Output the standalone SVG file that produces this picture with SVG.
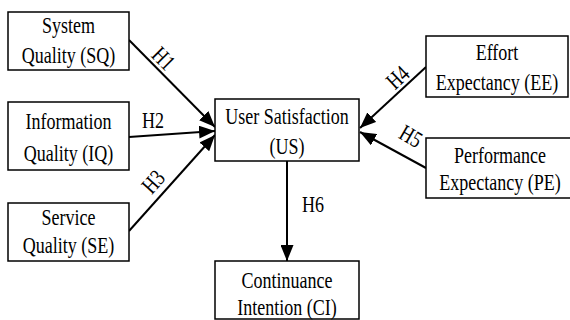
<svg xmlns="http://www.w3.org/2000/svg" width="570" height="320" viewBox="0 0 570 320">
<style>
rect.box{fill:#fff;stroke:#000;stroke-width:1.5}
text{font-family:'Liberation Serif','Times New Roman',Times,serif;font-size:23.4px;fill:#000;text-anchor:middle}
.conn line{stroke:#000;stroke-width:2}
</style>
<defs>
<marker id="arr" markerUnits="userSpaceOnUse" markerWidth="16" markerHeight="13" refX="16" refY="6.5" orient="auto">
<path d="M0,0 L16,6.5 L0,13 z" fill="#000"/>
</marker>
</defs>
<rect x="0" y="0" width="570" height="320" fill="#fff"/>
<g class="conn" id="connectors">
<line x1="129" y1="40" x2="215" y2="127" marker-end="url(#arr)"/>
<line x1="129" y1="137" x2="215" y2="131" marker-end="url(#arr)"/>
<line x1="129" y1="231" x2="215" y2="135" marker-end="url(#arr)"/>
<line x1="426" y1="67" x2="360" y2="128" marker-end="url(#arr)"/>
<line x1="426" y1="168" x2="360" y2="132" marker-end="url(#arr)"/>
<line x1="287" y1="161" x2="287" y2="261" marker-end="url(#arr)"/>
<text transform="translate(158,64) rotate(45) scale(0.77,1)">H1</text>
<text transform="translate(153,128) scale(0.77,1)">H2</text>
<text transform="translate(159,187) rotate(-48) scale(0.77,1)">H3</text>
<text transform="translate(403,83) rotate(-43) scale(0.77,1)">H4</text>
<text transform="translate(407,143) rotate(30) scale(0.77,1)">H5</text>
<text transform="translate(313,212) scale(0.77,1)">H6</text>
</g>
<g id="SQ">
<rect class="box" x="8" y="12" width="121" height="58"/>
<text transform="translate(68.5,33) scale(0.77,1)">System</text>
<text transform="translate(68.5,63) scale(0.77,1)">Quality (SQ)</text>
</g>
<g id="IQ">
<rect class="box" x="8" y="102" width="121" height="68"/>
<text transform="translate(68.5,129) scale(0.77,1)">Information</text>
<text transform="translate(68.5,161) scale(0.77,1)">Quality (IQ)</text>
</g>
<g id="SE">
<rect class="box" x="8" y="203" width="121" height="58"/>
<text transform="translate(68.5,225) scale(0.77,1)">Service</text>
<text transform="translate(68.5,253) scale(0.77,1)">Quality (SE)</text>
</g>
<g id="US">
<rect class="box" x="215" y="99" width="144" height="62"/>
<text transform="translate(287,124) scale(0.77,1)">User Satisfaction</text>
<text transform="translate(287,154) scale(0.77,1)">(US)</text>
</g>
<g id="CI">
<rect class="box" x="215" y="261" width="144" height="58"/>
<text transform="translate(287,288) scale(0.77,1)">Continuance</text>
<text transform="translate(287,315) scale(0.77,1)">Intention (CI)</text>
</g>
<g id="EE">
<rect class="box" x="426" y="36" width="142" height="61"/>
<text transform="translate(497,60) scale(0.77,1)">Effort</text>
<text transform="translate(497,90) scale(0.77,1)">Expectancy (EE)</text>
</g>
<g id="PE">
<rect class="box" x="426" y="138" width="150" height="60"/>
<text transform="translate(500,163) scale(0.77,1)">Performance</text>
<text transform="translate(500,190) scale(0.77,1)">Expectancy (PE)</text>
</g>
</svg>
